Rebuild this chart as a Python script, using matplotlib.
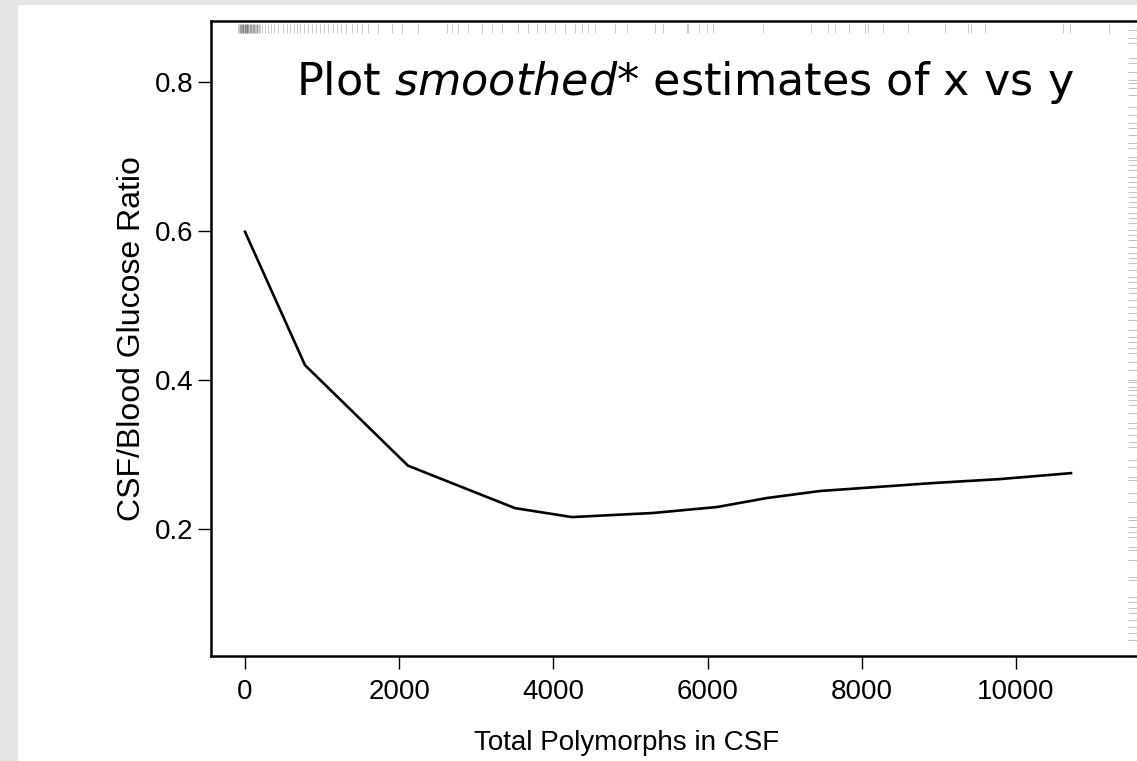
import numpy as np
import matplotlib
matplotlib.use("Agg")
import matplotlib.pyplot as plt
from matplotlib.patches import Rectangle
import matplotlib.transforms as mtransforms

# smoothed curve (lowess estimate)
smooth_x = [0, 778, 2114, 3502, 4241, 5292, 6122, 6770, 7458, 8923, 9792, 10713]
smooth_y = [0.599, 0.420, 0.285, 0.228, 0.216, 0.2215, 0.2295, 0.2416, 0.251, 0.2617, 0.267, 0.275]

# rug of x values (top)
rug_x = [-85, -75, -70, -60, -55, -50, -40, -35, -30, -25, -20, -10, -5, 0, 5, 10, 15, 20,
         25, 30, 40, 45, 50, 60, 70, 75, 80, 90, 100, 110, 115, 120, 130, 140, 150, 160,
         170, 180, 190,
         220, 259, 298, 337, 376, 428, 493, 545, 584, 636, 674, 713, 765, 817, 869, 921,
         973, 1025, 1077, 1141, 1193, 1245, 1310, 1388, 1453, 1518, 1595,
         1725, 1907, 2036, 2244, 2620, 2685, 2763, 2892, 3074, 3204, 3333, 3541, 3671,
         3787, 3891, 4021, 4150, 4280, 4371, 4449, 4540, 4799, 4955, 5318, 5422, 5733,
         5746, 5888, 5992, 6070, 6719, 7341, 7562, 7652, 7834, 8042, 8080, 8275, 8599,
         9079, 9377, 9416, 9598, 10610, 10700, 11206]

# rug of y values (right)
rug_y = [0.870, 0.859, 0.852, 0.832, 0.826, 0.813, 0.803, 0.799, 0.792, 0.783, 0.766,
         0.756, 0.745, 0.738, 0.729, 0.718, 0.711, 0.699, 0.695, 0.689, 0.682, 0.672,
         0.666, 0.659, 0.652, 0.646, 0.639, 0.632, 0.624, 0.617, 0.611, 0.601, 0.595,
         0.588, 0.579, 0.570, 0.564, 0.557, 0.548, 0.538, 0.532, 0.523, 0.517, 0.507,
         0.498, 0.490, 0.481, 0.467, 0.458, 0.451, 0.443, 0.436, 0.424, 0.413, 0.400,
         0.397, 0.391, 0.387, 0.380, 0.373, 0.366, 0.356, 0.342, 0.336, 0.326, 0.317,
         0.310, 0.293, 0.283, 0.270, 0.266, 0.248, 0.236, 0.216, 0.212, 0.203, 0.196,
         0.189, 0.176, 0.172, 0.158, 0.136, 0.132, 0.109, 0.102, 0.094, 0.087, 0.078,
         0.068, 0.060, 0.051]

x_ticks = [0, 2000, 4000, 6000, 8000, 10000]
y_ticks = [0.2, 0.4, 0.6, 0.8]

plt.rcParams['font.family'] = ['Liberation Sans', 'DejaVu Sans']
plt.rcParams['mathtext.fontset'] = 'custom'
plt.rcParams['mathtext.rm'] = 'DejaVu Sans'
plt.rcParams['mathtext.it'] = 'DejaVu Sans:italic'

fig = plt.figure(figsize=(11.37, 7.61), dpi=100)
fig.patch.set_facecolor('#e6e6e6')
fig.patches.append(Rectangle((18 / 1137, 0), 1, 756 / 761, transform=fig.transFigure,
                             facecolor='white', edgecolor='none', zorder=-10))

ax = fig.add_axes([211 / 1137, 105 / 761, 928 / 1137, 635 / 761])
ax.set_facecolor('white')

ax.plot(smooth_x, smooth_y, color='black', lw=1.9, zorder=3)

# rugs
top = mtransforms.blended_transform_factory(ax.transData, ax.transAxes)
ax.vlines(rug_x, 0.981, 0.996, transform=top, color='black', alpha=0.22, lw=0.7)
right = mtransforms.blended_transform_factory(ax.transAxes, ax.transData)
ax.hlines(rug_y, 0.988, 0.998, transform=right, color='black', alpha=0.25, lw=0.7)

ax.set_xlim(-441, 11595)
ax.set_ylim(0.0295, 0.882)

ax.set_xticks(x_ticks)
ax.set_xticklabels([str(t) for t in x_ticks])
ax.set_yticks(y_ticks)
ax.set_yticklabels([f"{t:.1f}" for t in y_ticks])

for s in ax.spines.values():
    s.set_linewidth(1.8)
ax.tick_params(axis='both', direction='out', length=9.5, width=1.0, labelsize=20)
ax.tick_params(axis='x', pad=7)
ax.tick_params(axis='y', pad=3)

ax.set_xlabel('Total Polymorphs in CSF', fontsize=20, labelpad=18, x=0.448)
ax.set_ylabel('CSF/Blood Glucose Ratio', fontsize=23, labelpad=6)

ax.text(0.0916, 0.883, r'Plot $\mathit{smoothed}$* estimates of x vs y', transform=ax.transAxes,
        fontsize=32, family='DejaVu Sans', va='baseline', ha='left')

fig.savefig('out.png', dpi=100)
